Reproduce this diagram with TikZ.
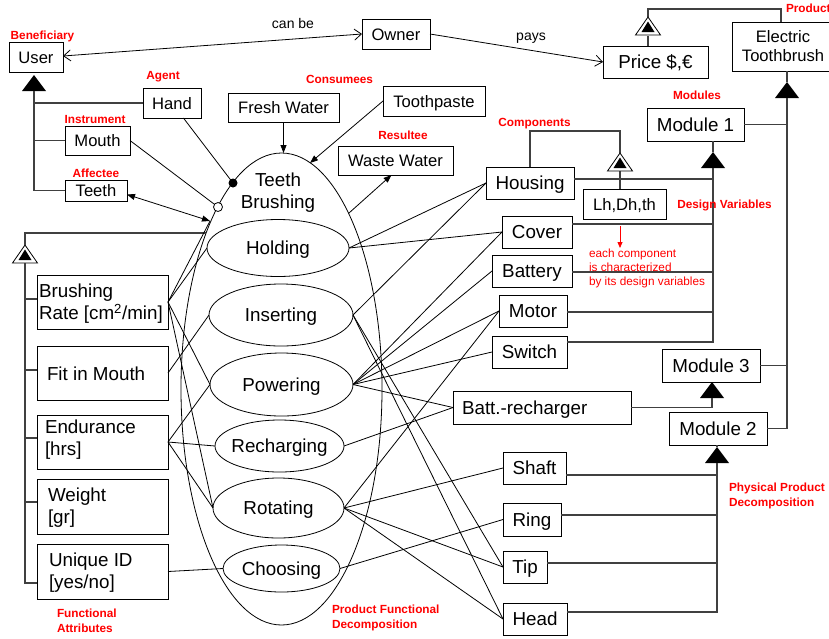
\documentclass[tikz,border=0pt]{standalone}
\usepackage{fontspec}
\setmainfont{Liberation Sans}
\usetikzlibrary{shapes.geometric, arrows.meta, calc}

\tikzset{
  solidtri/.pic={\fill (0,0) -- (-12,16) -- (12,16) -- cycle;},
  opentri/.pic={\draw[fill=white, line width=0.8pt] (0,0) -- (-12.5,18) -- (12.5,18) -- cycle;
                \fill (0,4.5) -- (-6.5,15) -- (6.5,15) -- cycle;}
}

\begin{document}
\begin{tikzpicture}[x=1pt, y=-1pt, line width=0.8pt,
  every node/.style={inner sep=0pt, outer sep=0pt},
  fs/.style={font=\fontsize{16.6}{19}\selectfont},
  fl/.style={font=\fontsize{18.8}{22}\selectfont},
  s1/.style={fs, text height=12pt, text depth=0pt},
  l1/.style={fl, text height=13.5pt, text depth=0pt},
  wh/.style 2 args={minimum width=#1, minimum height=#2},
  box/.style={draw, line width=1pt, align=center},
  fn/.style={draw, ellipse, line width=0.8pt},
  role/.style={text=red, font=\bfseries\fontsize{11.8}{15}\selectfont, align=left},
  note/.style={text=red, font=\fontsize{11.8}{14}\selectfont, align=left},
  verb/.style={font=\fontsize{14}{16}\selectfont},
  link/.style={line width=0.8pt},
  bus/.style={line width=1.1pt, draw=black!75},
  fa/.style={-{Triangle[length=8pt,width=6pt]}},
  dfa/.style={{Triangle[length=8pt,width=6pt]}-{Triangle[length=8pt,width=6pt]}},
  oa/.style={-{Straight Barb[length=7pt,width=11pt]}},
  doa/.style={{Straight Barb[length=7pt,width=11pt]}-{Straight Barb[length=7pt,width=11pt]}}
]
\useasboundingbox (0,0) rectangle (829,638);

% ---------- actors, owner and price ----------
\node[box,s1,wh={54}{30}] (user) at (36,57) {User};
\node[box,s1,wh={68}{30}] (owner) at (396,34) {Owner};
\node[box,l1,wh={105}{32}] (price) at (655.5,62) {Price \$,€};
\node[box,fs,wh={102}{49}] (etb) at (783,46.5) {Electric\\Toothbrush};
\node[box,s1,wh={58}{30}] (hand) at (172,103) {Hand};
\node[box,s1,wh={65}{29}] (mouth) at (97.5,140.5) {Mouth};
\node[box,s1,wh={62}{21}] (teeth) at (96,190.5) {Teeth};
\node[box,s1,wh={111}{29}] (fresh) at (283.5,107.5) {Fresh Water};
\node[box,s1,wh={102}{30}] (paste) at (434,101) {Toothpaste};
\node[box,s1,wh={115}{29}] (waste) at (395.5,160.5) {Waste Water};

\node[verb] (canbe) at (293,23) {can be};
\node[verb] (pays) at (531,38) {pays};
\draw[link,doa] ([yshift=1pt]user.east) -- (owner.west);
\draw[link,oa] (owner.east) -- (price.west);

% ---------- function decomposition ----------
\node[fn, wh={201}{472}] (tb) at (281.5,389) {};
\node[fl, align=center] (tbt) at (278,193) {Teeth\\Brushing};
\tikzset{fnl/.style={fl, text height=13.5pt, text depth=0pt}}
\node[fn, wh={142}{57}, label={[fnl]center:Holding}] (hold) at (278,248) {};
\node[fn, wh={144}{62}, label={[fnl]center:Inserting}] (ins) at (281,315) {};
\node[fn, wh={143}{63}, label={[fnl]center:Powering}] (pow) at (281.5,384.5) {};
\node[fn, wh={129}{52}, label={[fnl]center:Recharging}] (rech) at (279.5,446) {};
\node[fn, wh={131}{60}, label={[fnl]center:Rotating}] (rot) at (278.5,508) {};
\node[fn, wh={117}{47}, label={[fnl]center:Choosing}] (choo) at (281.5,568.5) {};

% points on the outline of the main function
\coordinate (pin) at (233,183);
\coordinate (pout) at (218,207);
\coordinate (tt) at (210,221);
\coordinate (fa) at (206,233);
\coordinate (pst) at (310,163);
\coordinate (wst) at (349,213);

\draw[link,fa] (fresh.south) -- (fresh.south |- tb.north);
\draw[link,fa] (paste.west) -- (pst);
\draw[link,fa] (wst) -- ($(waste.south)+(-4,0)$);
\draw[link] (hand) -- (pin);
\draw[link] (mouth.east) -- (pout);
\draw[link,dfa] ($(teeth.east)+(0,4)$) -- (tt);
\node[circle, fill=black, minimum size=9pt] (pinc) at (pin) {};
\node[circle, draw, fill=white, line width=0.8pt, minimum size=9pt] (poutc) at (pout) {};

% user as beneficiary of hand, mouth and teeth
\coordinate (u0) at (34,75);
\coordinate (u1) at (34,91);
\pic at (u0) {solidtri};
\draw[bus] (u1) |- (teeth.west);
\draw[bus] (hand.west) -| (u1);
\draw[bus] (mouth.west) -| (u1);

% ---------- functional attributes ----------
\node[box,wh={131}{54}] (rate) at (102.5,302) {};
\node[fl,anchor=west,align=left] (ratet) at (39,304) {Brushing\\Rate [cm\textsuperscript{2}/min]};
\node[box,wh={131}{54}] (fit) at (102.5,373) {};
\node[fl,anchor=west] (fitt) at (47,374) {Fit in Mouth};
\node[box,wh={131}{54}] (endu) at (102.5,442) {};
\node[fl,anchor=west,align=left] (endut) at (45,440) {Endurance\\{[hrs]}};
\node[box,wh={131}{55}] (wgt) at (102.5,506.5) {};
\node[fl,anchor=west,align=left] (wgtt) at (48,508) {Weight\\{[gr]}};
\node[box,wh={131}{55}] (uid) at (102.5,571.5) {};
\node[fl,anchor=west,align=left] (uidt) at (49,573) {Unique ID\\{[yes/no]}};

\coordinate (f0) at (25,245);
\coordinate (f1) at (25,263);
\pic at (f0) {opentri};
\draw[bus] (f0) |- (fa);
\draw[bus] (f1) |- ($(uid.west)+(0,11.5)$);
\draw[bus] ($(rate.west)+(0,-3)$) -| (f1);
\draw[bus] ($(fit.west)+(0,-3)$) -| (f1);
\draw[bus] ($(endu.west)+(0,-4)$) -| (f1);
\draw[bus] ($(wgt.west)+(0,-4.5)$) -| (f1);

\draw[link] (rate.east) -- (tt);
\draw[link] (rate.east) -- (hold.west);
\draw[link] (rate.east) -- (pow.west);
\draw[link] (rate.east) -- (rot.west);
\draw[link] (fit.east) -- (ins.west);
\draw[link] (endu.east) -- (pow.west);
\draw[link] (endu.east) -- (rech.west);
\draw[link] (endu.east) -- (rot.west);
\draw[link] (uid.east) -- (choo.west);

% ---------- components ----------
\node[box,l1,wh={88}{32}] (housing) at (530,183) {Housing};
\node[box,s1,wh={83}{30}] (dv) at (624.5,204) {Lh,Dh,th};
\node[box,l1,wh={70}{32}] (cover) at (537,232) {Cover};
\node[box,l1,wh={80}{32}] (battery) at (532,271) {Battery};
\node[box,l1,wh={68}{32}] (motor) at (533,311) {Motor};
\node[box,l1,wh={75}{32}] (switch) at (529.5,352) {Switch};
\node[box,l1,wh={178}{33},text width=160pt,inner xsep=9pt,align=left] (charger) at (542,407.5) {Batt.-recharger};
\node[box,l1,wh={63}{32}] (shaft) at (534.5,468) {Shaft};
\node[box,l1,wh={58}{33}] (ring) at (532,519.5) {Ring};
\node[box,l1,wh={44}{32}] (tip) at (525,567) {Tip};
\node[box,l1,wh={64}{32}] (head) at (535,619) {Head};

\draw[link] (hold.east) -- (housing.west);
\draw[link] (hold.east) -- (cover.west);
\draw[link] (ins.east) -- (housing.west);
\draw[link] (ins.east) -- (tip.west);
\draw[link] (ins.east) -- (head.west);
\draw[link] (pow.east) -- (cover.west);
\draw[link] (pow.east) -- (battery.west);
\draw[link] (pow.east) -- (motor.west);
\draw[link] (pow.east) -- (switch.west);
\draw[link] (pow.east) -- (charger.west);
\draw[link] (rech.east) -- (charger.west);
\draw[link] (rot.east) -- (motor.west);
\draw[link] (rot.east) -- (shaft.west);
\draw[link] (rot.east) -- (tip.west);
\draw[link] (rot.east) -- (head.west);
\draw[link] (choo.east) -- (ring.west);

% design variables of the components
\coordinate (d0) at (620,153);
\coordinate (d1) at (620,171);
\coordinate (d2) at (620,131);
\draw[bus] (housing.north) |- (d2) -- (d0);
\draw[bus] (d1) -- (dv.north -| d0);
\pic at (d0) {opentri};

% ---------- modules ----------
\node[box,l1,wh={97}{33}] (m1) at (695.5,124.5) {Module 1};
\node[box,l1,wh={98}{33}] (m3) at (711,365.5) {Module 3};
\node[box,l1,wh={98}{33}] (m2) at (718,428.5) {Module 2};

\coordinate (a0) at (713,152);
\coordinate (a1) at (713,168);
\draw[bus] (m1.south -| a0) -- (a0);
\pic at (a0) {solidtri};
\draw[bus] (a1) |- ($(switch.east)+(0,-10)$);
\draw[bus] ($(housing.east)+(0,-4)$) -| (a1);
\draw[bus] ($(cover.east)+(0,-8)$) -| (a1);
\draw[bus] ($(battery.east)+(0,1)$) -| (a1);
\draw[bus] ($(motor.east)+(0,1)$) -| (a1);

\coordinate (b0) at (712,382);
\coordinate (b1) at (712,398);
\pic at (b0) {solidtri};
\draw[bus] (b1) |- (charger.east);

\coordinate (c0) at (717,447);
\coordinate (c1) at (717,463);
\draw[bus] (m2.south -| c0) -- (c0);
\pic at (c0) {solidtri};
\draw[bus] (c1) |- ($(head.east)+(0,-7)$);
\draw[bus] ($(shaft.east)+(0,7)$) -| (c1);
\draw[bus] ($(ring.east)+(0,-4.5)$) -| (c1);
\draw[bus] ($(tip.east)+(0,-4)$) -| (c1);

% product and its price
\coordinate (e0) at (787,82);
\coordinate (e1) at (787,98);
\draw[bus] (etb.south -| e0) -- (e0);
\pic at (e0) {solidtri};
\draw[bus] (e1) |- (m2.east);
\draw[bus] (m1.east) -| (e1);
\draw[bus] (m3.east) -| (e1);

\coordinate (p0) at (648,17);
\coordinate (p1) at (648,36);
\coordinate (p2) at (648,9);
\draw[bus] (p0) -- (p2) -| ($(etb.north)+(-2,0)$);
\draw[bus] (p1) -- (price.north -| p1);
\pic at (p0) {opentri};

% ---------- role labels ----------
\node[role] (rBen) at (42.5,36) {Beneficiary};
\node[role] (rAg) at (163,77) {Agent};
\node[role] (rIn) at (95,119) {Instrument};
\node[role] (rAf) at (96,173) {Affectee};
\node[role] (rCons) at (339.5,79) {Consumees};
\node[role] (rRes) at (403,135) {Resultee};
\node[role] (rComp) at (534.5,124) {Components};
\node[role] (rMod) at (697,95) {Modules};
\node[role, anchor=west] (rProd) at (786,8) {Product};
\node[role] (rDV) at (724.5,205) {Design Variables};
\node[role, anchor=west] (rPhys) at (729,495.5) {Physical Product\\Decomposition};
\node[role, anchor=west] (rFA) at (57,621) {Functional\\Attributes};
\node[role, anchor=west] (rPF) at (332,618) {Product Functional\\Decomposition};

\node[note, anchor=west] (dvnote) at (589,268) {each component\\is characterized\\by its design variables};
\draw[red, line width=0.8pt, -{Triangle[length=6pt,width=5pt]}] ($(dv.south)+(-4.5,7)$) -- ($(dv.south)+(-4.5,29)$);
\end{tikzpicture}
\end{document}
